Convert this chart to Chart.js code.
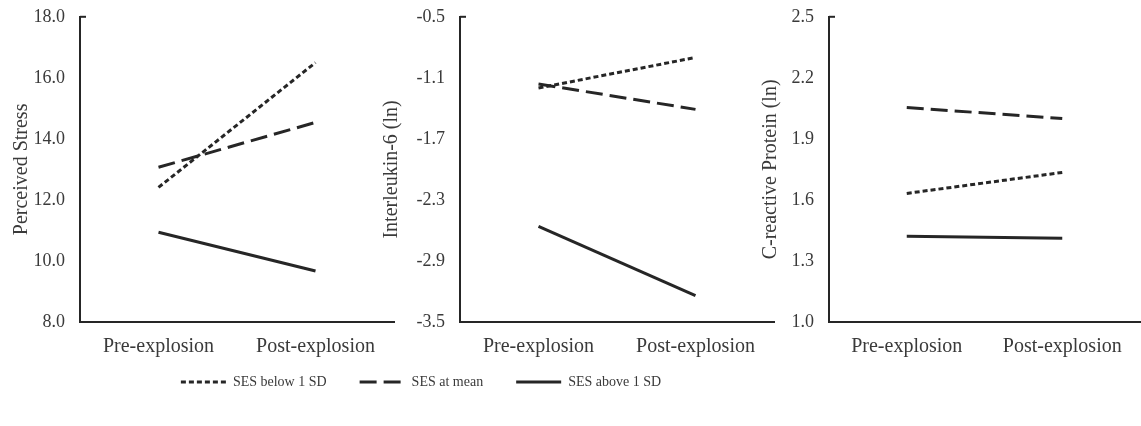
<!DOCTYPE html>
<html>
<head>
<meta charset="utf-8">
<script src="https://cdn.jsdelivr.net/npm/chart.js@4.4.1/dist/chart.umd.min.js"></script>
<style>
body { margin: 0; background: #fff; width: 1141px; height: 426px; position: relative; overflow: hidden; }
canvas { position: absolute; }
</style>
</head>
<body>
<canvas id="stress" width="395" height="369" style="left:0;top:-9px"></canvas>
<canvas id="il6" width="395" height="369" style="left:380px;top:-9px"></canvas>
<canvas id="crp" width="392" height="369" style="left:749px;top:-9px"></canvas>
<canvas id="key" width="600" height="84" style="left:121px;top:342px"></canvas>
<script>
const periods = ['Pre-explosion', 'Post-explosion']
const groups = ['SES below 1 SD', 'SES at mean', 'SES above 1 SD']

// perceived stress
const stressBelow = [12.41, 16.50]
const stressMean = [13.07, 14.54]
const stressAbove = [10.94, 9.67]
const stressTicks = [8, 10, 12, 14, 16, 18]

// interleukin-6 (ln)
const il6Below = [-1.20, -0.90]
const il6Mean = [-1.16, -1.41]
const il6Above = [-2.56, -3.24]
const il6Ticks = [-3.5, -2.9, -2.3, -1.7, -1.1, -0.5]

// c-reactive protein (ln)
const crpBelow = [1.632, 1.735]
const crpMean = [2.054, 2.00]
const crpAbove = [1.422, 1.412]
const crpTicks = [1.0, 1.3, 1.6, 1.9, 2.2, 2.5]

const ink = '#262626'
const textInk = '#3a3a3a'
const serif = '"Liberation Serif", "Times New Roman", serif'
const dashes = [[5, 3], [17, 7], []]

function lines(values) {
    return values.map((v, i) => ({
        label: groups[i],
        data: v,
        borderColor: ink,
        backgroundColor: ink,
        borderWidth: 3,
        borderDash: dashes[i],
        pointRadius: 0,
        pointHoverRadius: 0,
        tension: 0
    }))
}

// little inward stub at the top of the value axis
const topStub = {
    id: 'topStub',
    afterDraw(chart) {
        const a = chart.chartArea, ctx = chart.ctx
        ctx.save()
        ctx.strokeStyle = ink
        ctx.lineWidth = 2
        ctx.beginPath()
        ctx.moveTo(a.left, a.top)
        ctx.lineTo(a.left + 6, a.top)
        ctx.stroke()
        ctx.restore()
    }
}

function panel(id, values, ticks, title, padLeft) {
    new Chart(document.getElementById(id), {
        type: 'line',
        data: { labels: periods, datasets: lines(values) },
        plugins: [topStub],
        options: {
            responsive: false,
            animation: false,
            layout: { padding: { left: padLeft, right: 1, top: 7, bottom: 0 } },
            plugins: { legend: { display: false }, tooltip: { enabled: false } },
            scales: {
                x: {
                    offset: true,
                    grid: { display: false, drawTicks: false },
                    border: { display: true, color: ink, width: 2 },
                    ticks: { color: textInk, padding: 13, font: { family: serif, size: 20 } },
                    afterFit: s => { s.height = 38 }
                },
                y: {
                    min: ticks[0],
                    max: ticks[ticks.length - 1],
                    afterBuildTicks: s => { s.ticks = ticks.map(v => ({ value: v })) },
                    grid: { display: false, drawTicks: false },
                    border: { display: true, color: ink, width: 2 },
                    ticks: {
                        color: textInk, padding: 15,
                        font: { family: serif, size: 18 },
                        callback: v => v.toFixed(1)
                    },
                    title: {
                        display: true, text: title, color: textInk, padding: 0,
                        font: { family: serif, size: 20 }
                    },
                    afterFit: s => { s.width = 80 - padLeft }
                }
            }
        }
    })
}

panel('stress', [stressBelow, stressMean, stressAbove], stressTicks, 'Perceived Stress', 10)
panel('il6', [il6Below, il6Mean, il6Above], il6Ticks, 'Interleukin-6 (ln)', 0)
panel('crp', [crpBelow, crpMean, crpAbove], crpTicks, 'C-reactive Protein (ln)', 10)

// shared key underneath the panels
new Chart(document.getElementById('key'), {
    type: 'line',
    data: { labels: periods, datasets: lines([[], [], []]) },
    options: {
        responsive: false,
        animation: false,
        scales: { x: { display: false }, y: { display: false } },
        plugins: {
            tooltip: { enabled: false },
            legend: {
                display: true,
                position: 'top',
                maxHeight: 84,
                labels: {
                    usePointStyle: true,
                    pointStyle: 'line',
                    pointStyleWidth: 45,
                    padding: 33,
                    color: textInk,
                    font: { family: serif, size: 14 },
                    generateLabels: chart => Chart.defaults.plugins.legend.labels.generateLabels(chart)
                        .map((item, i) => Object.assign(item, {
                            lineDash: chart.data.datasets[i].borderDash,
                            lineWidth: 3,
                            strokeStyle: ink
                        }))
                }
            }
        }
    }
})
</script>
</body>
</html>
